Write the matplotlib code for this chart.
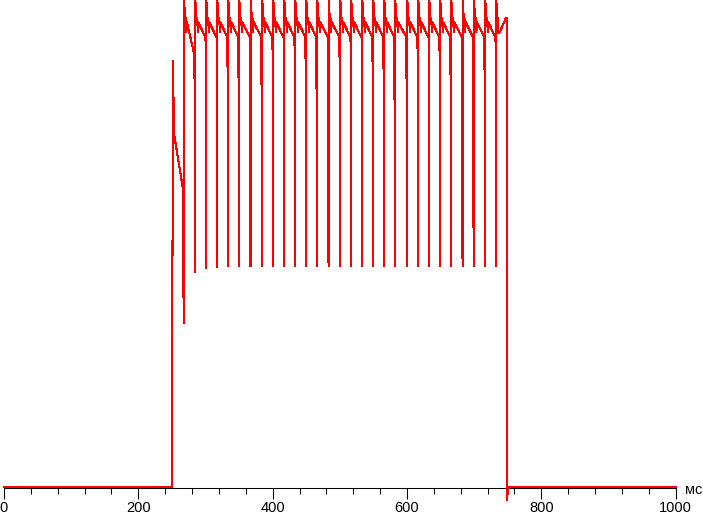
import numpy as np
import matplotlib
matplotlib.use("Agg")
import matplotlib.pyplot as plt

# light level, % of the steady level; time in ms
lead_t = [0.0, 250.3, 250.5, 251.6, 252.5, 253.4]
lead_v = [0.0, 0.0, 31.5, 90.6, 80.9, 74.9]

spike_t = [268.0, 284.8, 301.2, 317.6, 333.9, 350.3, 367.3, 384.5, 400.9, 417.3,
           433.7, 450.1, 466.4, 483.4, 500.7, 517.0, 533.4, 549.8, 566.2, 582.5,
           600.4, 616.8, 633.2, 649.5, 665.9, 682.9, 699.7, 716.5, 732.9]
decay_end = [63.2, 91.9] + [95.7] * 27
pre_dip = [34.9, 68.9, 91.3, 95.1, 72.1, 55.1, 47.0, 58.3, 84.7, 95.1,
           84.9, 62.1, 50.6, 48.9, 71.7, 92.3, 95.1, 72.1, 55.3, 47.4,
           57.2, 83.4, 95.1, 84.9, 61.9, 50.6, 48.7, 70.2, 91.7]
spike_bottom = [34.9, 45.7, 46.6, 46.8] + [47.0] * 25
spike_top = 103.6

# shape right after each spike (ms after spike, level)
after_dt = [1.5, 3.0, 3.6, 4.2]
after_v = [100.0, 99.6, 96.8, 98.9]

# tail: last period and switch-off
tail_t = [734.4, 735.8, 736.2, 737.3, 747.4, 749.1, 749.2, 750.0, 1000.0]
tail_v = [99.8, 99.8, 96.6, 96.6, 99.8, 99.8, -2.8, 0.0, 0.0]

t = list(lead_t)
v = list(lead_v)
for k in range(len(spike_t)):
    s = spike_t[k]
    t += [s - 1.3, s - 0.6, s, s + 0.05]
    v += [decay_end[k], pre_dip[k], spike_bottom[k], spike_top]
    if k < len(spike_t) - 1:
        t += [s + d for d in after_dt]
        v += after_v
t += tail_t
v += tail_v

fig = plt.figure(figsize=(7.03, 5.16), dpi=100)
ax = fig.add_axes([4 / 703, 1 - 488.3 / 516, 671.7 / 703, 488.3 / 516])
ax.plot(t, v, color="#ff0000", lw=0.75, antialiased=False, clip_on=False, zorder=5)

ax.set_xlim(0, 1000)
ax.set_ylim(-0.28, 103.62)
for side in ["top", "left", "right"]:
    ax.spines[side].set_visible(False)
ax.spines["bottom"].set_linewidth(0.75)
ax.set_yticks([])
ax.set_xticks(np.arange(0, 1001, 200))
ax.set_xticks(np.arange(0, 1001, 40), minor=True)
ax.tick_params(axis="x", which="major", length=8, width=0.75, pad=1.5,
               labelsize=10.5)
ax.tick_params(axis="x", which="minor", length=4, width=0.75)
for lab in ax.get_xticklabels():
    lab.set_fontfamily("Liberation Sans")

fig.text(685 / 703, 1 - 490 / 516, "мс", ha="left", va="center",
         fontsize=10.5, family="Liberation Sans")

fig.savefig("out.png", dpi=100)
